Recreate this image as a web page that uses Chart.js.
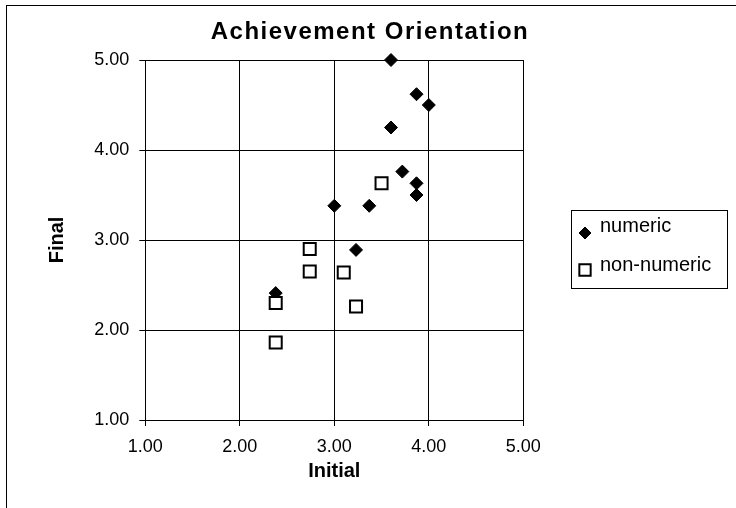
<!DOCTYPE html>
<html>
<head>
<meta charset="utf-8">
<title>Achievement Orientation</title>
<script src="https://cdn.jsdelivr.net/npm/chart.js@4/dist/chart.umd.min.js"></script>
<style>
  html, body { margin: 0; padding: 0; background: #fff; }
  #wrap { width: 736px; height: 508px; }
</style>
</head>
<body>
<div id="wrap"><canvas id="chart" width="736" height="508"></canvas></div>
<script>
// --- data ---
const chartTitle = 'Achievement Orientation';
const xTitle = 'Initial';
const yTitle = 'Final';
const axisTicks = [1, 2, 3, 4, 5];

const numericInitial = [3.60, 3.87, 4.00, 3.60, 3.72, 3.87, 3.87, 3.00, 3.37, 3.23, 2.38];
const numericFinal   = [5.00, 4.62, 4.50, 4.25, 3.76, 3.63, 3.50, 3.38, 3.38, 2.89, 2.41];

const nonNumericInitial = [3.50, 2.74, 2.74, 3.10, 2.38, 3.23, 2.38];
const nonNumericFinal   = [3.63, 2.90, 2.65, 2.64, 2.30, 2.26, 1.86];

const seriesLabels = ['numeric', 'non-numeric'];

const FONT = '"Liberation Sans", Arial, sans-serif';

function toPoints(xs, ys) {
  return xs.map((x, i) => ({ x: x, y: ys[i] }));
}

// outer frame + title, drawn on the canvas
const framePlugin = {
  id: 'frame',
  beforeDraw(chart) {
    const ctx = chart.ctx;
    ctx.save();
    ctx.strokeStyle = '#000';
    ctx.lineWidth = 1;
    ctx.strokeRect(6.5, 5.5, 900, 900);
    ctx.restore();
  },
  afterDraw(chart) {
    const ctx = chart.ctx;
    ctx.save();
    ctx.font = 'bold 24px ' + FONT;
    ctx.fillStyle = '#000';
    ctx.textAlign = 'center';
    ctx.textBaseline = 'middle';
    if ('letterSpacing' in ctx) ctx.letterSpacing = '1.5px';
    ctx.fillText(chartTitle, 370, 32);
    ctx.restore();
  }
};

// boxed legend on the right
const boxLegend = {
  id: 'boxLegend',
  afterDraw(chart) {
    const ctx = chart.ctx;
    const box = { x: 571.5, y: 210.5, w: 156, h: 78 };
    ctx.save();
    ctx.fillStyle = '#fff';
    ctx.fillRect(box.x, box.y, box.w, box.h);
    ctx.strokeStyle = '#000';
    ctx.lineWidth = 1;
    ctx.strokeRect(box.x, box.y, box.w, box.h);
    ctx.font = '20px ' + FONT;
    ctx.textAlign = 'left';
    ctx.textBaseline = 'middle';
    chart.data.datasets.forEach((ds, i) => {
      const ty = 226 + i * 39;
      const my = 233 + i * 37;
      ctx.fillStyle = ds.backgroundColor;
      ctx.strokeStyle = ds.borderColor;
      ctx.lineWidth = ds.borderWidth;
      Chart.helpers.drawPoint(ctx, {
        pointStyle: ds.pointStyle,
        radius: ds.legendRadius,
        rotation: 0,
        borderWidth: ds.borderWidth
      }, 585, my);
      ctx.fillStyle = '#000';
      ctx.fillText(ds.label, 600, ty);
    });
    ctx.restore();
  }
};

function zeroPadding(scale) {
  scale.paddingLeft = 0;
  scale.paddingRight = 0;
  scale.paddingTop = 0;
  scale.paddingBottom = 0;
}

const ctx = document.getElementById('chart').getContext('2d');
const chart = new Chart(ctx, {
  type: 'scatter',
  data: {
    datasets: [
      {
        label: seriesLabels[0],
        data: toPoints(numericInitial, numericFinal),
        pointStyle: 'rectRot',
        radius: 6.5,
        legendRadius: 6,
        backgroundColor: '#000',
        borderColor: '#000',
        borderWidth: 1,
        clip: false,
        order: 2
      },
      {
        label: seriesLabels[1],
        data: toPoints(nonNumericInitial, nonNumericFinal),
        pointStyle: 'rect',
        radius: 8.5,
        legendRadius: 8,
        backgroundColor: '#fff',
        borderColor: '#000',
        borderWidth: 2,
        clip: false,
        order: 1
      }
    ]
  },
  options: {
    responsive: false,
    animation: false,
    devicePixelRatio: 1,
    layout: { padding: { left: 0, top: 60, right: 212.7, bottom: 0 } },
    plugins: {
      legend: { display: false },
      title: { display: false },
      tooltip: { enabled: false }
    },
    scales: {
      x: {
        type: 'linear',
        min: axisTicks[0],
        max: axisTicks[axisTicks.length - 1],
        afterBuildTicks(scale) { scale.ticks = axisTicks.map(v => ({ value: v })); },
        afterFit(scale) { scale.height = 88; zeroPadding(scale); },
        ticks: {
          color: '#000',
          font: { family: FONT, size: 18 },
          padding: 10,
          callback: v => Number(v).toFixed(2)
        },
        grid: { color: '#000', lineWidth: 1, tickLength: 6 },
        border: { color: '#000', width: 1 },
        title: {
          display: true,
          text: xTitle,
          color: '#000',
          font: { family: FONT, size: 20, weight: 'bold' },
          padding: { top: 0, bottom: 25 }
        }
      },
      y: {
        type: 'linear',
        min: axisTicks[0],
        max: axisTicks[axisTicks.length - 1],
        afterBuildTicks(scale) { scale.ticks = axisTicks.map(v => ({ value: v })); },
        afterFit(scale) { scale.width = 145.3; zeroPadding(scale); },
        ticks: {
          color: '#000',
          font: { family: FONT, size: 18 },
          padding: 10,
          callback: v => Number(v).toFixed(2)
        },
        grid: { color: '#000', lineWidth: 1, tickLength: 6 },
        border: { color: '#000', width: 1 },
        title: {
          display: true,
          text: yTitle,
          color: '#000',
          font: { family: FONT, size: 20, weight: 'bold' },
          padding: { top: 45, bottom: 0 }
        }
      }
    }
  },
  plugins: [framePlugin, boxLegend]
});
</script>
</body>
</html>
